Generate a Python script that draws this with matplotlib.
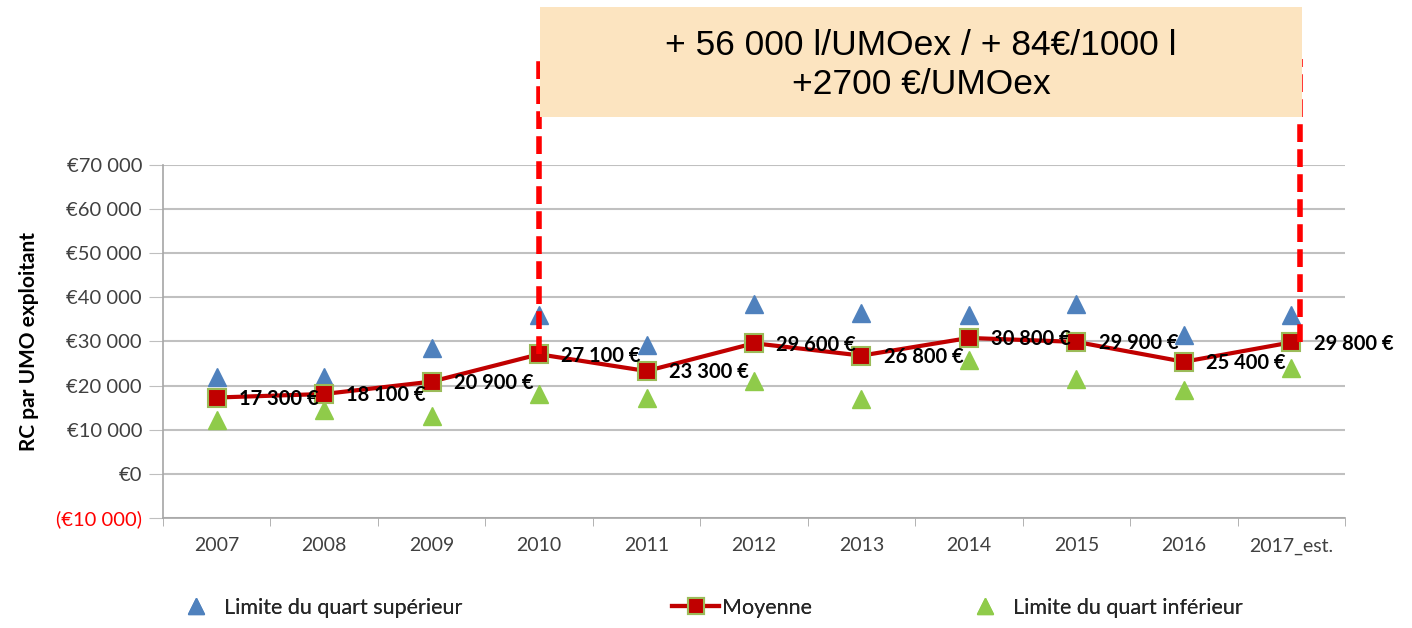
import numpy as np
import matplotlib.pyplot as plt
from matplotlib.lines import Line2D
from matplotlib.patches import Rectangle

plt.rcParams['font.family'] = ['Lato', 'DejaVu Sans']

annees = ['2007', '2008', '2009', '2010', '2011', '2012', '2013', '2014', '2015', '2016', '2017_est.']
quart_sup = [22000, 22000, 28500, 36000, 29300, 38500, 36500, 36000, 38500, 31500, 36000]
moyenne = [17300, 18100, 20900, 27100, 23300, 29600, 26800, 30800, 29900, 25400, 29800]
quart_inf = [12300, 14500, 13200, 18000, 17200, 21000, 17000, 25800, 21500, 19000, 24000]
yticks = [-10000, 0, 10000, 20000, 30000, 40000, 50000, 60000, 70000]

bleu = '#4F81BD'
vert = '#8FCB4A'
rouge = '#C00000'

fig = plt.figure(figsize=(14.12, 6.28), dpi=100)
ax = fig.add_axes([0.1154, 0.1752, 0.8372, 0.5621])

x = np.arange(len(annees))
ax.plot(x, quart_sup, linestyle='none', marker='^', markersize=13, color=bleu, zorder=3)
ax.plot(x, quart_inf, linestyle='none', marker='^', markersize=13, color=vert, zorder=3)
ax.plot(x, moyenne, color=rouge, linewidth=3, marker='s', markersize=12.5,
        markerfacecolor=rouge, markeredgecolor='#9BBB59', markeredgewidth=1.5, zorder=4)

for xi, v in zip(x, moyenne):
    lab = f'{v:,}'.replace(',', ' ') + ' €'
    ax.annotate(lab, (xi, v), xytext=(16, -1), textcoords='offset points',
                ha='left', va='center', fontsize=14.5, fontweight='bold', color='black', zorder=5)

ax.set_xlim(-0.5, len(annees) - 0.5)
ax.set_ylim(-10000, 70000)
ax.set_yticks(yticks)
ax.set_yticklabels(['(€10 000)'] + ['€' + f'{t:,}'.replace(',', ' ') if t else '€0' for t in yticks[1:]],
                   fontsize=14.5, color='#404040')
ax.get_yticklabels()[0].set_color('#FF0000')
ax.set_xticks(x)
ax.set_xticklabels(annees, fontsize=14, color='#404040')
ax.set_xticks(np.arange(-0.5, len(annees)), minor=True)
ax.tick_params(axis='x', which='major', length=0, pad=14)
ax.tick_params(axis='x', which='minor', length=6, color='#A6A6A6')
ax.tick_params(axis='y', length=10, color='#BFBFBF', pad=5)
ax.grid(axis='y', color='#C0C0C0', linewidth=1.5)
ax.set_axisbelow(True)
for s in ['top', 'right']:
    ax.spines[s].set_visible(False)
for s in ['left', 'bottom']:
    ax.spines[s].set_color('#A6A6A6')
    ax.spines[s].set_linewidth(1.2)
ax.set_ylabel('RC par UMO exploitant', fontsize=15, fontweight='bold')
ax.yaxis.set_label_coords(-0.105, 0.5)

# encadre et lignes pointillees
xa, xb = 3, 10.08
ax.plot([xa, xa], [moyenne[3], 94000], color='#FF0000', linewidth=4, linestyle=(0, (3.2, 1.3)),
        clip_on=False, zorder=6)
ax.plot([xb, xb], [moyenne[10], 94000], color='#FF0000', linewidth=4, linestyle=(0, (3.2, 1.3)),
        clip_on=False, zorder=6)
fig.patches.append(Rectangle((540 / 1412, 1 - 117 / 628), 762 / 1412, 110 / 628,
                             transform=fig.transFigure, facecolor='#FCE4C0', edgecolor='none', zorder=1))
fig.text(921 / 1412, 1 - 65 / 628, '+ 56 000 l/UMOex / + 84€/1000 l\n+2700 €/UMOex',
         ha='center', va='center', fontsize=25.5, family='Liberation Sans', linespacing=1.25)

# legende en trois morceaux
leg_font = 15.5
entrees = [
    (Line2D([], [], linestyle='none', marker='^', markersize=12, color=bleu),
     'Limite du quart supérieur', 174, 2.0, 0.3),
    (Line2D([], [], color=rouge, linewidth=3, marker='s', markersize=11,
            markerfacecolor=rouge, markeredgecolor='#9BBB59', markeredgewidth=1.5),
     'Moyenne', 672, 2.2, 0.1),
    (Line2D([], [], linestyle='none', marker='^', markersize=12, color=vert),
     'Limite du quart inférieur', 963, 2.0, 0.3),
]
for h, lab, px, hl, pad in entrees:
    leg = fig.legend([h], [lab], loc='center left', bbox_to_anchor=(px / 1412, 1 - 608 / 628),
                     frameon=False, fontsize=leg_font, handlelength=hl, handletextpad=pad,
                     borderpad=0, borderaxespad=0, labelcolor='#262626')
    fig.add_artist(leg)

fig.savefig('out.png', dpi=100)
